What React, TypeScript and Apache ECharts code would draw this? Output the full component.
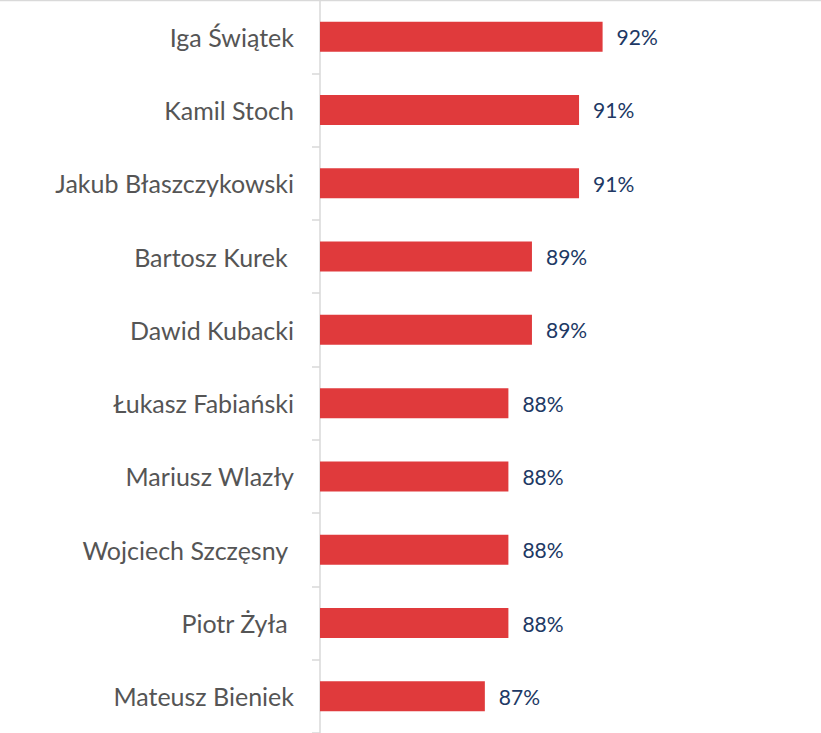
import React, { useEffect, useRef } from "react";
import * as echarts from "echarts";

const categories = [
  "Iga Świątek",
  "Kamil Stoch",
  "Jakub Błaszczykowski",
  "Bartosz Kurek ",
  "Dawid Kubacki",
  "Łukasz Fabiański",
  "Mariusz Wlazły",
  "Wojciech Szczęsny ",
  "Piotr Żyła ",
  "Mateusz Bieniek",
];
const values = [92, 91, 91, 89, 89, 88, 88, 88, 88, 87];
const axisMin = 80;
const axisMax = 100;

export default function App() {
  const ref = useRef<HTMLDivElement>(null);
  useEffect(() => {
    if (!ref.current) return;
    const chart = echarts.init(ref.current, undefined, { renderer: "svg" });
    chart.setOption({
      animation: false,
      backgroundColor: "#ffffff",
      grid: { left: 320, right: 30, top: 0, bottom: 0, containLabel: false },
      graphic: [
        {
          type: "line",
          shape: { x1: 0, y1: 0.5, x2: 821, y2: 0.5 },
          style: { stroke: "#d9d9d9", lineWidth: 1.5 },
        },
      ],
      xAxis: { type: "value", min: axisMin, max: axisMax, show: false },
      yAxis: {
        type: "category",
        inverse: true,
        data: categories,
        axisLine: { show: true, lineStyle: { color: "#d9d9d9", width: 1.5 } },
        axisTick: { show: true, length: 8, lineStyle: { color: "#d9d9d9", width: 1.5 } },
        axisLabel: {
          margin: 26,
          color: "#555555",
          fontSize: 25,
          fontFamily: "Lato",
        },
        splitLine: { show: false },
      },
      series: [
        {
          type: "bar",
          data: values,
          barWidth: 30,
          itemStyle: { color: "#E03A3C" },
          label: {
            show: true,
            position: "right",
            distance: 14,
            formatter: "{c}%",
            color: "#203864",
            fontSize: 21,
            fontFamily: "Lato",
          },
        },
      ],
    });
    return () => chart.dispose();
  }, []);
  return (
    <div
      ref={ref}
      style={{ position: "absolute", left: 0, top: 0, width: 821, height: 733 }}
    />
  );
}
